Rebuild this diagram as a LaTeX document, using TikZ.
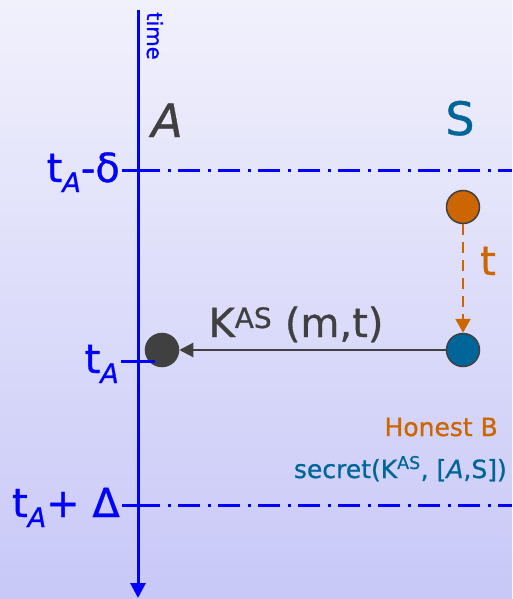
\documentclass[tikz,border=0pt]{standalone}
\usepackage{fontspec}
\setmainfont{DejaVu Sans}[FakeBold=0.8]
\usetikzlibrary{arrows.meta,positioning}

\definecolor{axisblue}{RGB}{0,0,255}
\definecolor{agentgray}{RGB}{64,64,64}
\definecolor{serverteal}{RGB}{0,102,153}
\definecolor{honestorange}{RGB}{204,102,0}
\definecolor{bgtop}{RGB}{241,241,252}
\definecolor{bgbottom}{RGB}{200,200,248}

\newcommand{\idx}[1]{\raisebox{-10pt}{\fontsize{27}{27}\selectfont\itshape #1}}

\begin{document}
\begin{tikzpicture}[x=1pt, y=-1pt,
    timeline/.style={axisblue, line width=3pt, -{Triangle[length=15pt, width=15pt]}},
    deadline/.style={axisblue, line width=3pt, dash pattern=on 22pt off 8pt on 3pt off 7pt},
    tick/.style={axisblue, line width=3pt},
    timelabel/.style={axisblue, anchor=base east, inner sep=0pt, font=\fontsize{40}{44}\selectfont},
    event/.style={circle, draw=agentgray, line width=1.5pt, minimum size=33pt, inner sep=0pt},
    role/.style={anchor=base, inner sep=0pt, font=\fontsize{46}{50}\selectfont},
    msg/.style={agentgray, line width=2.2pt, -{Triangle[length=14pt, width=14pt]}},
    delay/.style={honestorange, line width=2.5pt, dash pattern=on 11pt off 7pt, -{Triangle[length=14pt, width=15pt]}},
    claim/.style={anchor=base east, inner sep=0pt, font=\fontsize{25}{30}\selectfont}
]

% Background
\shade[top color=bgtop, bottom color=bgbottom] (0,0) rectangle (512,599);
\useasboundingbox (0,0) rectangle (512,599);

% Time axis
\coordinate (ttop) at (138,10);
\coordinate (tbot) at (138,598);
\draw[timeline] (ttop) -- (tbot);
\node[axisblue, rotate=-90, anchor=base west, inner sep=0pt, font=\fontsize{21}{24}\selectfont] (timelbl) at (147,12) {time};

% Roles
\node[role, agentgray, font=\fontsize{46}{50}\selectfont\itshape] (roleA) at (167,137) {A};
\node[role, serverteal] (roleS) at (460,135) {S};

% Window bounds
\coordinate (lowL) at (122,170);
\coordinate (lowM) at (138,170);
\coordinate (lowR) at (512,170);
\draw[tick] (lowL) -- (lowM);
\draw[deadline] (lowM) -- (lowR);
\node[timelabel] (lowlbl) at (120,182) {t\idx{A}-δ};

\coordinate (highL) at (122,505);
\coordinate (highM) at (138,505);
\coordinate (highR) at (512,505);
\draw[tick] (highL) -- (highM);
\draw[deadline] (highM) -- (highR);
\node[timelabel] (highlbl) at (120,517) {t\idx{A}+ Δ};

% Events
\node[event, fill=honestorange] (sGen) at (463,207) {};
\node[event, fill=serverteal] (sSend) at (463,350) {};
\node[event, fill=agentgray] (aRecv) at (162,350) {};

% Receive time
\coordinate (recvL) at (121,361);
\coordinate (recvR) at (155,361);
\draw[tick] (recvL) -- (recvR);
\node[timelabel] (recvlbl) at (119,373) {t\idx{A}};

% Arrows
\draw[delay] (sGen) -- (sSend);
\node[honestorange, anchor=base, inner sep=0pt, font=\fontsize{40}{44}\selectfont] (delaylbl) at (488,275) {t};
\draw[msg] (sSend) -- (aRecv);
\node[agentgray, anchor=base, inner sep=0pt, font=\fontsize{40}{44}\selectfont] (msglbl) at (296,337) {K\textsuperscript{AS} (m,t)};

% Claims
\node[claim, honestorange] (honest) at (498,436) {Honest B};
\node[claim, serverteal] (secret) at (507,478) {secret(K\textsuperscript{AS}, [\textit{A},S])};

\end{tikzpicture}
\end{document}
